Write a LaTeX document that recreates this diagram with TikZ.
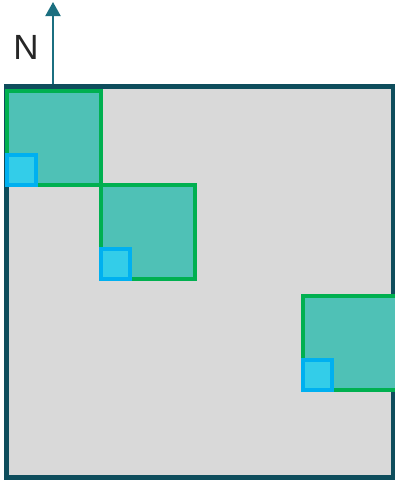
\documentclass[tikz,border=0pt]{standalone}
\usepackage{fontspec}
\setmainfont{Liberation Sans}
\usetikzlibrary{arrows.meta, positioning}
\definecolor{SiteEdge}{HTML}{0E4D5C}
\definecolor{SiteFill}{HTML}{D9D9D9}
\definecolor{PlotEdge}{HTML}{00B050}
\definecolor{PlotFill}{HTML}{4FC1B6}
\definecolor{CoreEdge}{HTML}{00B0F0}
\definecolor{CoreFill}{HTML}{33CDE9}
\definecolor{ArrowTeal}{HTML}{1B6F80}

\begin{document}
\begin{tikzpicture}[x=1pt, y=-1pt]
    \tikzset{
        siteblock/.style={rectangle, draw=SiteEdge, line width=5pt, fill=SiteFill,
            inner sep=0pt, outer sep=0pt, minimum width=387pt, minimum height=391pt},
        plotblock/.style={rectangle, draw=PlotEdge, line width=4pt, fill=PlotFill,
            inner sep=0pt, outer sep=0pt, minimum width=94pt, minimum height=94pt},
        coreblock/.style={rectangle, draw=CoreEdge, line width=4pt, fill=CoreFill,
            inner sep=0pt, outer sep=0pt, minimum width=29pt, minimum height=30pt,
            anchor=south west},
        northarrow/.style={draw=ArrowTeal, line width=2pt,
            -{Triangle[width=15pt, length=14pt]}}
    }
    \useasboundingbox (0,0) rectangle (395,480);
    \node[siteblock] (site) at (200,282) {};
    \node[plotblock] (plotA) at (53.5,138) {};
    \node[plotblock, anchor=north west] (plotB) at (plotA.south east) {};
    \node[plotblock] (plotC) at (349.5,342.5) {};
    \node[coreblock] (coreA) at (plotA.south west) {};
    \node[coreblock] (coreB) at (plotB.south west) {};
    \node[coreblock] (coreC) at (plotC.south west) {};
    \coordinate (arrowfoot) at (53,84);
    \coordinate (arrowtip) at (53,2);
    \draw[northarrow] (arrowfoot) -- (arrowtip);
    \node[font=\fontsize{35}{40}\selectfont, text=black!85] (nlabel) at (26,47) {N};
\end{tikzpicture}
\end{document}
